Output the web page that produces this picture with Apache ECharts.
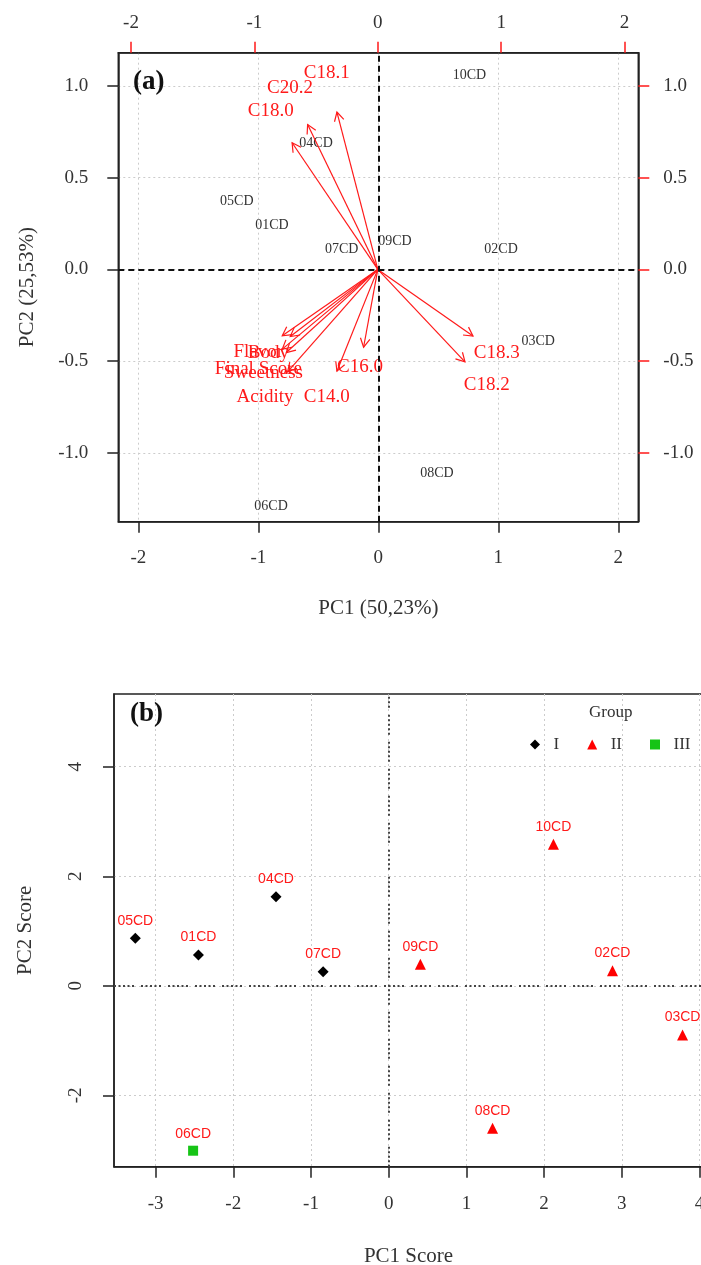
<!DOCTYPE html>
<html>
<head>
<meta charset="utf-8">
<script src="https://cdn.jsdelivr.net/npm/echarts@6/dist/echarts.min.js"></script>
<style>
html,body{margin:0;padding:0;background:#fff;}
#chart{width:701px;height:1265px;}
</style>
</head>
<body>
<div id="chart"></div>
<script>
// ---------- DATA ----------
const sampleNames = ['01CD','02CD','03CD','04CD','05CD','06CD','07CD','08CD','09CD','10CD'];
// (a) biplot sample positions (bottom / left axes)
const biplotPC1 = [-0.886, 1.023, 1.333, -0.519, -1.179, -0.894, -0.305, 0.489, 0.139, 0.759];
const biplotPC2 = [0.241, 0.111, -0.394, 0.688, 0.368, -1.288, 0.109, -1.109, 0.155, 1.058];
// (a) variable loadings (top / right axes)
const loadingNames = ['C14.0','C16.0','C18.0','C18.1','C18.2','C18.3','C20.2','Acidity','Body','Flavor','Final Score','Sweetness'];
const loadingPC1 = [-0.414, -0.144, -0.868, -0.414, 0.883, 0.964, -0.711, -0.914, -0.887, -0.968, -0.968, -0.927];
const loadingPC2 = [-0.693, -0.530, 0.862, 1.071, -0.630, -0.454, 0.986, -0.697, -0.457, -0.452, -0.543, -0.566];
// (b) PC scores
const scorePC1 = [-2.448, 2.880, 3.782, -1.450, -3.261, -2.517, -0.844, 1.337, 0.408, 2.120];
const scorePC2 = [0.562, 0.276, -0.898, 1.627, 0.867, -3.010, 0.257, -2.601, 0.392, 2.583];
const sampleGroups = ['I','II','II','I','I','III','I','II','II','II'];
const groupNames = ['I','II','III'];
// tick labels
const biplotXTicks = [-2, -1, 0, 1, 2];
const biplotYTicks = [-1, -0.5, 0, 0.5, 1];
const scoreXTicks = [-3, -2, -1, 0, 1, 2, 3, 4];
const scoreYTicks = [-2, 0, 2, 4];

// ---------- STYLE ----------
const SERIF = 'Liberation Serif';
const SANS = 'Liberation Sans';
const RED = '#ff1a1a';
const gridLine = {show: true, lineStyle: {color: '#cccccc', width: 1, type: [2, 3]}};
const boxLine = {show: true, onZero: false, lineStyle: {color: '#222', width: 1.5}};

function tickAxis(opts) {
  return Object.assign({
    type: 'value',
    axisLine: boxLine,
    axisTick: {show: true, length: 11, customValues: opts.ticks, lineStyle: {color: opts.tickColor || '#222', width: 1.5}},
    axisLabel: {customValues: opts.ticks, margin: opts.margin, fontFamily: SERIF, fontSize: 19, color: '#333',
      rotate: opts.rotate || 0, formatter: opts.fmt || (v => String(v))},
    splitLine: opts.split ? gridLine : {show: false}
  }, opts.extra);
}

const chart = echarts.init(document.getElementById('chart'), null, {renderer: 'canvas'});

const loadingData = loadingNames.map((n, i) => ({name: n, value: [loadingPC1[i], loadingPC2[i]]}));
const biplotData = sampleNames.map((n, i) => ({name: n, value: [biplotPC1[i], biplotPC2[i]]}));

function groupData(g) {
  const out = [];
  sampleNames.forEach((n, i) => { if (sampleGroups[i] === g) out.push({name: n, value: [scorePC1[i], scorePC2[i]]}); });
  return out;
}

const groupStyle = {
  'I': {symbol: 'diamond', size: 11, color: '#000'},
  'II': {symbol: 'triangle', size: 11, color: '#ff0000'},
  'III': {symbol: 'rect', size: 10, color: '#16c416'}
};

const option = {
  backgroundColor: '#fff',
  animation: false,
  title: [
    {text: '(a)', left: 133, top: 69, padding: 0, textStyle: {fontFamily: SERIF, fontWeight: 'bold', fontSize: 27, color: '#111'}},
    {text: '(b)', left: 130, top: 701, padding: 0, textStyle: {fontFamily: SERIF, fontWeight: 'bold', fontSize: 27, color: '#111'}},
    {text: 'Group', left: 589, top: 704, padding: 0, textStyle: {fontFamily: SERIF, fontWeight: 'normal', fontSize: 17, color: '#333'}}
  ],
  legend: {
    data: groupNames,
    left: 530, top: 736, padding: 0,
    itemWidth: 10, itemHeight: 10, itemGap: 28,
    selectedMode: false,
    formatter: name => '  ' + name,
    textStyle: {fontFamily: SERIF, fontSize: 17, color: '#333'}
  },
  grid: [
    {left: 118.3, top: 52.7, width: 520, height: 469, show: true, borderColor: '#222', borderWidth: 1.5,
      outerBoundsMode: 'none', containLabel: false},
    {left: 114, top: 694, width: 589, height: 472.7, show: true, borderColor: '#222', borderWidth: 1.5,
      outerBoundsMode: 'none', containLabel: false}
  ],
  xAxis: [
    tickAxis({ticks: biplotXTicks, margin: 27, split: true, extra: {gridIndex: 0, position: 'bottom', min: -2.1667, max: 2.1667,
      name: 'PC1 (50,23%)', nameLocation: 'middle', nameGap: 76,
      nameTextStyle: {fontFamily: SERIF, fontSize: 21, color: '#333'}}}),
    tickAxis({ticks: biplotXTicks, margin: 20, tickColor: RED, extra: {gridIndex: 0, position: 'top', min: -2.103, max: 2.111}}),
    tickAxis({ticks: scoreXTicks, margin: 28, split: true, extra: {gridIndex: 1, position: 'bottom', min: -3.535, max: 4.045,
      name: 'PC1 Score', nameLocation: 'middle', nameGap: 79,
      nameTextStyle: {fontFamily: SERIF, fontSize: 21, color: '#333'}}})
  ],
  yAxis: [
    tickAxis({ticks: biplotYTicks, margin: 30, split: true, fmt: v => v.toFixed(1), extra: {gridIndex: 0, position: 'left', min: -1.374, max: 1.18,
      name: 'PC2 (25,53%)', nameLocation: 'middle', nameGap: 80,
      nameTextStyle: {fontFamily: SERIF, fontSize: 21, color: '#333'}}}),
    tickAxis({ticks: biplotYTicks, margin: 25, tickColor: RED, fmt: v => v.toFixed(1), extra: {gridIndex: 0, position: 'right', min: -1.374, max: 1.18}}),
    tickAxis({ticks: scoreYTicks, margin: 28, split: true, rotate: 90, extra: {gridIndex: 1, position: 'left', min: -3.302, max: 5.327,
      name: 'PC2 Score', nameLocation: 'middle', nameGap: 78,
      nameTextStyle: {fontFamily: SERIF, fontSize: 21, color: '#333'}}})
  ],
  series: [
    // zero reference lines (a)
    {
      type: 'scatter', xAxisIndex: 0, yAxisIndex: 0, data: [], silent: true,
      markLine: {silent: true, symbol: ['none', 'none'], label: {show: false},
        lineStyle: {color: '#111', width: 2, type: [6, 4]},
        data: [{xAxis: 0}, {yAxis: 0}]}
    },
    // sample labels (a)
    {
      type: 'custom', xAxisIndex: 0, yAxisIndex: 0, data: biplotData, silent: true,
      renderItem: function (params, api) {
        const p = api.coord([api.value(0), api.value(1)]);
        return {type: 'text', x: p[0], y: p[1],
          style: {text: sampleNames[params.dataIndex], align: 'center', verticalAlign: 'middle',
            fontFamily: SERIF, fontSize: 14, fill: '#333'}};
      }
    },
    // loading arrows (a)
    {
      type: 'custom', xAxisIndex: 1, yAxisIndex: 1, data: loadingData, silent: true,
      renderItem: function (params, api) {
        const x = api.value(0), y = api.value(1);
        const o = api.coord([0, 0]);
        const t = api.coord([x * 0.8, y * 0.8]);
        const l = api.coord([x, y]);
        const a = Math.atan2(t[1] - o[1], t[0] - o[0]);
        const L = 10, s = 0.5;
        const p1 = [t[0] - L * Math.cos(a - s), t[1] - L * Math.sin(a - s)];
        const p2 = [t[0] - L * Math.cos(a + s), t[1] - L * Math.sin(a + s)];
        return {type: 'group', children: [
          {type: 'line', shape: {x1: o[0], y1: o[1], x2: t[0], y2: t[1]}, style: {stroke: RED, lineWidth: 1.2}},
          {type: 'polyline', shape: {points: [p1, t, p2]}, style: {stroke: RED, lineWidth: 1.2, fill: null}},
          {type: 'text', x: l[0], y: l[1], style: {text: loadingNames[params.dataIndex], align: 'center', verticalAlign: 'middle',
            fontFamily: SERIF, fontSize: 19, fill: RED}}
        ]};
      }
    },
    // zero reference lines (b)
    {
      type: 'scatter', xAxisIndex: 2, yAxisIndex: 2, data: [], silent: true,
      markLine: {silent: true, symbol: ['none', 'none'], label: {show: false},
        lineStyle: {color: '#444', width: 2, type: [2, 2.5, 2, 2.5, 2, 2.5, 2, 2.5, 2, 7]},
        data: [{xAxis: 0}, {yAxis: 0}]}
    }
  ].concat(groupNames.map(g => ({
    name: g, type: 'scatter', xAxisIndex: 2, yAxisIndex: 2,
    symbol: groupStyle[g].symbol, symbolSize: groupStyle[g].size,
    itemStyle: {color: groupStyle[g].color, opacity: 1},
    label: {show: true, position: 'top', distance: 5, formatter: p => p.name,
      fontFamily: SANS, fontSize: 14, color: RED},
    data: groupData(g)
  })))
};

chart.setOption(option);
</script>
</body>
</html>
